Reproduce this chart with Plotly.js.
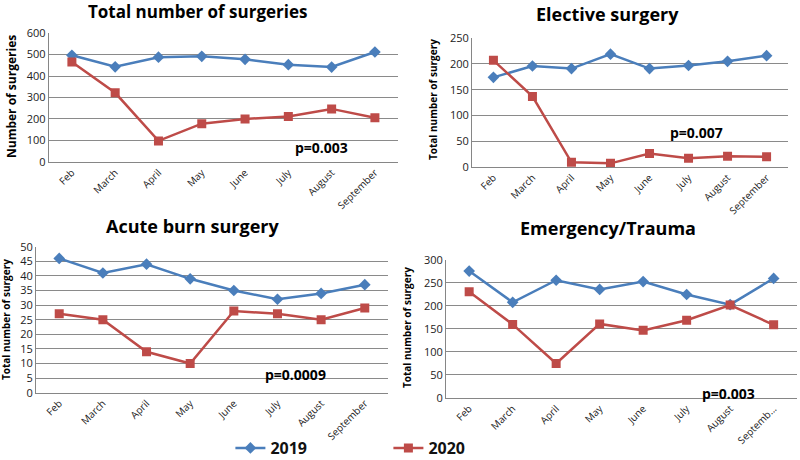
<!DOCTYPE html>
<html><head><meta charset="utf-8">
<script src="https://cdn.plot.ly/plotly-3.0.1.min.js"></script>
<style>html,body{margin:0;padding:0;background:#fff}#c{width:800px;height:460px}</style>
</head><body><div id="c"></div>
<script>
const months = ["Feb","March","April","May","June","July","August","September"];
const monthsEmergency = ["Feb","March","April","May","June","July","August","Septemb..."];
const total2019 = [497,443,488,492,478,453,442,512];
const total2020 = [465,322,98,178,200,212,247,206];
const elective2019 = [174,196,191,219,191,197,205,216];
const elective2020 = [207,137,9,7,26,17,21,20];
const burn2019 = [46,41,44,39,35,32,34,37];
const burn2020 = [27,25,14,10,28,27,25,29];
const emerg2019 = [276,208,256,236,253,225,203,260];
const emerg2020 = [231,160,75,161,147,169,202,159];
const panelTitles = ["Total number of surgeries","Elective surgery","Acute burn surgery","Emergency/Trauma"];
const yTitles = ["Number of surgeries","Total number of surgery","Total number of surgery","Total number of surgery"];
const pValues = ["p=0.003","p=0.007","p=0.0009","p=0.003"];

const BLUE = "#4a7ebb", RED = "#be4b48";
const FONT = "Open Sans, Liberation Sans, sans-serif";

const panels = [
  {x: months, a: total2019, b: total2020, xa: "x", ya: "y"},
  {x: months, a: elective2019, b: elective2020, xa: "x2", ya: "y2"},
  {x: months, a: burn2019, b: burn2020, xa: "x3", ya: "y3"},
  {x: monthsEmergency, a: emerg2019, b: emerg2020, xa: "x4", ya: "y4"}
];
const traces = [];
panels.forEach((p, i) => {
  traces.push({x: p.x, y: p.a, xaxis: p.xa, yaxis: p.ya, type: "scatter", mode: "lines+markers",
    name: "2019", showlegend: i === 0, legendgroup: "a",
    line: {color: BLUE, width: 2.5}, marker: {symbol: "diamond", size: 9, color: BLUE}});
  traces.push({x: p.x, y: p.b, xaxis: p.xa, yaxis: p.ya, type: "scatter", mode: "lines+markers",
    name: "2020", showlegend: i === 0, legendgroup: "b",
    line: {color: RED, width: 2.5}, marker: {symbol: "square", size: 9, color: RED}});
});

function xax(dom){ return {domain: dom, type: "category", tickangle: -45, showgrid: false, automargin: false,
  showline: true, linecolor: "#868686", linewidth: 1, ticks: "", tickfont: {family: FONT, size: 10, color: "#222"}, fixedrange: true}; }
function yax(dom, rng, dt){ return {domain: dom, range: rng, dtick: dt, tick0: 0, showgrid: true, gridcolor: "#8a8a8a", gridwidth: 1, automargin: false,
  showline: true, linecolor: "#868686", linewidth: 1, ticks: "", zeroline: false, tickfont: {family: FONT, size: 11, color: "#222"}, fixedrange: true}; }

const layout = {
  width: 800, height: 460, margin: {l: 0, r: 0, t: 0, b: 0, autoexpand: false},
  paper_bgcolor: "#fff", plot_bgcolor: "#fff", font: {family: FONT},
  xaxis: xax([0.061, 0.4975]), yaxis: yax([0.648, 0.928], [0, 600], 100),
  xaxis2: Object.assign(xax([0.59, 0.985]), {anchor: "y2"}), yaxis2: Object.assign(yax([0.637, 0.917], [0, 250], 50), {anchor: "x2"}),
  xaxis3: Object.assign(xax([0.045, 0.485]), {anchor: "y3"}), yaxis3: Object.assign(yax([0.1463, 0.4637], [0, 50], 5), {anchor: "x3"}),
  xaxis4: Object.assign(xax([0.5575, 0.996]), {anchor: "y4"}), yaxis4: Object.assign(yax([0.1348, 0.4348], [0, 300], 50), {anchor: "x4"}),
  showlegend: true,
  legend: {orientation: "h", x: 0.288, xanchor: "left", y: 1 - 448/460, yanchor: "middle", entrywidth: 113, entrywidthmode: "pixels",
    itemwidth: 30, tracegroupgap: 0,
    font: {family: FONT, size: 16, color: "#111", weight: "bold"}, bgcolor: "rgba(0,0,0,0)"},
  annotations: []
};
const titlePos = [[198, 12, 17], [607, 14, 18], [192, 226, 18], [608, 228, 18]];
const yTitlePos = [[11, 97, 12], [433, 100, 10], [6, 320, 10], [407, 328, 10]];
const pPos = [[321, 147], [696, 132], [295, 374], [728, 393]];
for (let i = 0; i < 4; i++) {
  layout.annotations.push({xref: "paper", yref: "paper", x: titlePos[i][0]/800, y: 1 - titlePos[i][1]/460,
    text: "<b>" + panelTitles[i] + "</b>", showarrow: false, xanchor: "center", yanchor: "middle",
    font: {family: FONT, size: titlePos[i][2], color: "#000"}});
  layout.annotations.push({xref: "paper", yref: "paper", x: yTitlePos[i][0]/800, y: 1 - yTitlePos[i][1]/460,
    text: "<b>" + yTitles[i] + "</b>", showarrow: false, textangle: -90, xanchor: "center", yanchor: "middle",
    font: {family: FONT, size: yTitlePos[i][2], color: "#000"}});
  layout.annotations.push({xref: "paper", yref: "paper", x: pPos[i][0]/800, y: 1 - pPos[i][1]/460,
    text: "<b>" + pValues[i] + "</b>", showarrow: false, xanchor: "center", yanchor: "middle",
    font: {family: FONT, size: 14, color: "#000"}});
}
Plotly.newPlot("c", traces, layout, {displayModeBar: false, staticPlot: true});
</script></body></html>
